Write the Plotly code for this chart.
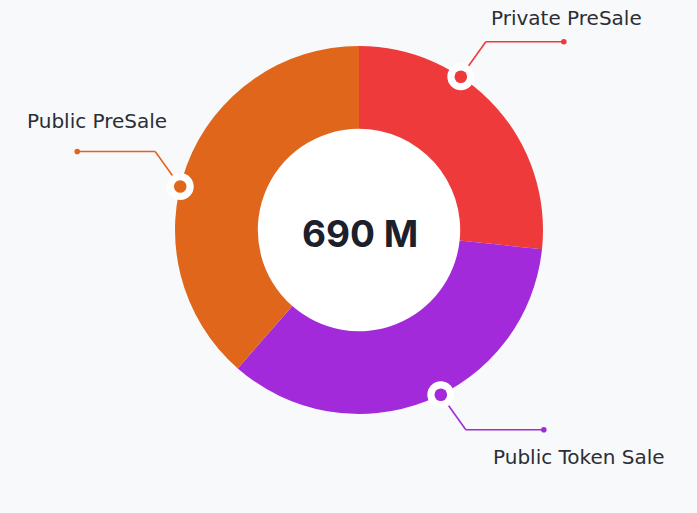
import math
import plotly.graph_objects as go

# ---------------- data ----------------
labels = ["Private PreSale", "Public Token Sale", "Public PreSale"]
values = [184, 240, 266]          # millions, sum = 690
unit = "M"

# ---------------- style / layout ----------------
colors = ["#ee3a3a", "#a22ada", "#e0661c"]
anchor_frac = [0.35, 0.46, 0.45]   # where along each slice the callout sits
label_pos = [(566, 18), (579, 457), (97, 121)]   # pixel centres of the callout texts
W, H = 697, 513
CX, CY, R = 359, 230, 184
HOLE = 0.55
BG = "#f8f9fb"


def px(x, y):
    return x / W, 1 - y / H


fig = go.Figure()
fig.add_trace(go.Pie(
    labels=labels, values=values, hole=HOLE, sort=False,
    direction="clockwise", rotation=0,
    marker=dict(colors=colors, line=dict(width=0)),
    textinfo="none", hoverinfo="skip", showlegend=False,
    domain=dict(x=[(CX - R) / W, (CX + R) / W],
                y=[(H - CY - R) / H, (H - CY + R) / H]),
))

shapes = []
annotations = []

# white hole
hr = R * HOLE
x0, y0 = px(CX - hr, CY - hr)
x1, y1 = px(CX + hr, CY + hr)
shapes.append(dict(type="circle", xref="paper", yref="paper", layer="below",
                   x0=x0, y0=y1, x1=x1, y1=y0, fillcolor="white", line=dict(width=0)))

total = sum(values)
cum = 0
for lab, v, col, fr, lp in zip(labels, values, colors, anchor_frac, label_pos):
    ang = (cum + v * fr) / total * 2 * math.pi
    cum += v
    mx = CX + R * math.sin(ang)
    my = CY - R * math.cos(ang)
    sx = 1 if math.sin(ang) >= 0 else -1
    sy = 1 if -math.cos(ang) >= 0 else -1
    ex, ey = mx + sx * 25, my + sy * 35
    fx, fy = ex + sx * 78, ey
    # leader line
    for (a, b), (c, d) in [((mx, my), (ex, ey)), ((ex, ey), (fx, fy))]:
        p0 = px(a, b)
        p1 = px(c, d)
        shapes.append(dict(type="line", xref="paper", yref="paper", layer="above",
                           x0=p0[0], y0=p0[1], x1=p1[0], y1=p1[1],
                           line=dict(color=col, width=1.6)))
    # end dot, white ring and coloured marker
    for (cx, cy, r, fill) in [(fx, fy, 2.8, col), (mx, my, 13.5, "white"), (mx, my, 6.3, col)]:
        a0 = px(cx - r, cy - r)
        a1 = px(cx + r, cy + r)
        shapes.append(dict(type="circle", xref="paper", yref="paper", layer="above",
                           x0=a0[0], y0=a1[1], x1=a1[0], y1=a0[1],
                           fillcolor=fill, line=dict(width=0)))
    lx, ly = px(*lp)
    annotations.append(dict(text=lab, x=lx, y=ly, xref="paper", yref="paper",
                            showarrow=False, xanchor="center", yanchor="middle",
                            font=dict(family="DejaVu Sans", size=20, color="#2b2e35")))

cx_, cy_ = px(CX + 1, CY + 3)
annotations.append(dict(text=f"{total} {unit}", x=cx_, y=cy_, xref="paper", yref="paper",
                        showarrow=False, xanchor="center", yanchor="middle",
                        font=dict(family="Inter", size=37, color="#1b202b", weight=700)))

fig.update_layout(
    width=W, height=H, margin=dict(l=0, r=0, t=0, b=0),
    paper_bgcolor=BG, plot_bgcolor=BG,
    shapes=shapes, annotations=annotations, showlegend=False,
)

fig.write_html("out.html")
